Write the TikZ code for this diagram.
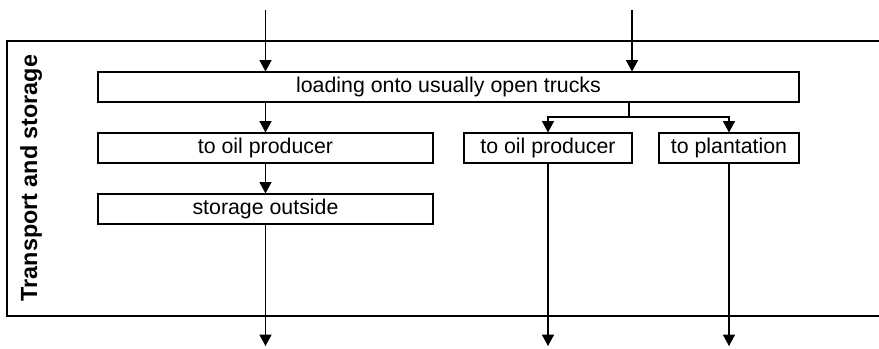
\documentclass[tikz,border=0pt]{standalone}
\usepackage{fontspec}
\setmainfont{Liberation Sans}
\usetikzlibrary{arrows.meta}
\begin{document}
\begin{tikzpicture}[x=0.75pt,y=-0.75pt,
  line width=0.8pt,
  box/.style={draw, rectangle, inner sep=0pt, minimum height=22.5pt,
    font=\fontsize{16}{19}\selectfont},
  flow/.style={-{Triangle[width=9pt,length=8.5pt]}},
  side/.style={font=\fontsize{17.5}{21}\selectfont\bfseries}]
\useasboundingbox (0,0) rectangle (879,349);

% frame of the stage (open to the right)
\draw (884,41) -| (7,316) -- (884,316);
\node[side, rotate=90, anchor=base] (stage) at (37,178) {Transport and storage};

% process boxes
\node[box, minimum width=525.75pt] (load)  at (448.5,87)  {loading onto usually open trucks};
\node[box, minimum width=251.25pt] (opL)   at (265.5,148) {to oil producer};
\node[box, minimum width=251.25pt] (store) at (265.5,209) {storage outside};
\node[box, minimum width=126pt]    (opR)   at (548,148)   {to oil producer};
\node[box, minimum width=105pt]    (plant) at (729,148)   {to plantation};

% free ends of the in- and outgoing flows
\coordinate (in1)  at (265.5,10);
\coordinate (in2)  at (632,10);
\coordinate (out1) at (265.5,346);
\coordinate (out2) at (548,346);
\coordinate (out3) at (729,346);
\coordinate (br)   at (629,117);

% flows
\draw[flow] (in1) -- (in1 |- load.north);
\draw[flow] (in2) -- (in2 |- load.north);
\draw[flow] (opL.north |- load.south) -- (opL.north);
\draw[flow] (opL.south) -- (store.north);
\draw[flow] (store.south) -- (out1);
\draw (br |- load.south) -- (br);
\draw[flow] (br) -| (opR.north);
\draw[flow] (br) -| (plant.north);
\draw[flow] (opR.south) -- (out2);
\draw[flow] (plant.south) -- (out3);
\end{tikzpicture}
\end{document}
